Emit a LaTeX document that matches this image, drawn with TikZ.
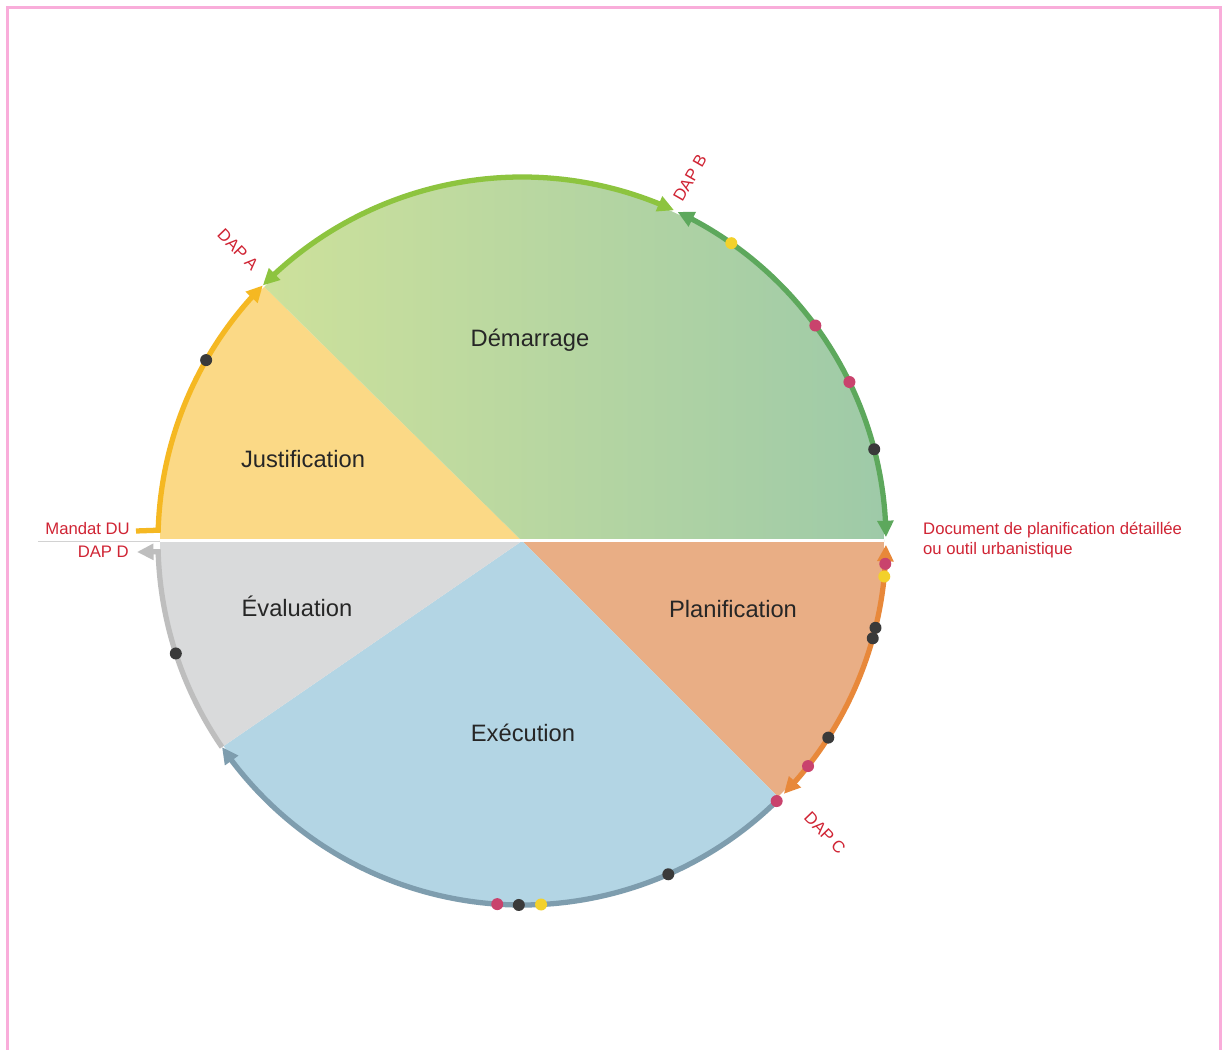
\documentclass[tikz,border=0pt]{standalone}
\usepackage{fontspec}
\setmainfont{Liberation Sans}
\usetikzlibrary{arrows.meta, bending, positioning}

\definecolor{justfill}{RGB}{251,217,134}
\definecolor{demleft}{RGB}{205,225,155}
\definecolor{demright}{RGB}{158,202,168}
\definecolor{planfill}{RGB}{233,174,133}
\definecolor{execfill}{RGB}{179,213,228}
\definecolor{evalfill}{RGB}{217,218,219}
\definecolor{justline}{RGB}{245,184,34}
\definecolor{demlineA}{RGB}{141,196,63}
\definecolor{demlineB}{RGB}{93,168,92}
\definecolor{planline}{RGB}{232,136,58}
\definecolor{execline}{RGB}{126,157,174}
\definecolor{evalline}{RGB}{190,190,190}
\definecolor{dotdark}{RGB}{58,58,58}
\definecolor{dotpink}{RGB}{201,67,109}
\definecolor{dotyellow}{RGB}{243,209,43}
\definecolor{dapred}{RGB}{208,36,52}

\begin{document}
\begin{tikzpicture}[x=0.02cm, y=0.02cm,
  phase/.style={font=\fontsize{13.5}{16}\selectfont, text=black!85},
  dap/.style={font=\fontsize{9.5}{11.5}\selectfont, text=dapred},
  rim/.style={line width=3pt},
  milestone/.style={circle, inner sep=0pt, minimum size=2.4mm},
  >={Triangle[length=3.3mm,width=3.1mm]}
]
\useasboundingbox[fill=white] (-522,-509) rectangle (704,541);
\draw[magenta!32, line width=0.06cm] (-514,-509) -- (-514,533) -- (698,533) -- (698,-509);

% sectors
\fill[justfill] (0,0) -- (180:362) arc[start angle=180, end angle=135.4, radius=362] -- cycle;
\shade[left color=demleft, right color=demright] (0,0) -- (135.4:362) arc[start angle=135.4, end angle=0, radius=362] -- cycle;
\fill[planfill] (0,0) -- (0:362) arc[start angle=0, end angle=-45, radius=362] -- cycle;
\fill[execfill] (0,0) -- (-45:362) arc[start angle=-45, end angle=-145.5, radius=362] -- cycle;
\fill[evalfill] (0,0) -- (-145.5:362) arc[start angle=-145.5, end angle=-180, radius=362] -- cycle;
\draw[white, line width=0.06cm] (180:362) -- (0:362);
\draw[gray!35, line width=0.4pt] (-484,0) -- (180:362);

\coordinate (pA) at (135.4:364);
\coordinate (pB) at (65:364);
\coordinate (pC) at (-45:364);
\coordinate (pE) at (-145.5:364);
\coordinate (mandat) at (-386,10);
\coordinate (dapDend) at (-385,-11);

% rim arcs
\draw[rim, justline, ->] (mandat) -- (178.3:364) arc[start angle=178.3, end angle=135.4, radius=364];
\draw[rim, demlineA, <->] (pA) arc[start angle=135.4, end angle=65.3, radius=364];
\draw[rim, demlineB, <->] (64.7:364) arc[start angle=64.7, end angle=0.6, radius=364];
\draw[rim, planline, <->] (-0.6:364) arc[start angle=-0.6, end angle=-44, radius=364];
\draw[rim, execline, ->] (pC) arc[start angle=-45, end angle=-145.5, radius=364];
\draw[rim, evalline, ->] (pE) arc[start angle=-145.5, end angle=-178.3, radius=364] -- (dapDend);

% milestones
\foreach \a/\c [count=\i] in {150.2/dotdark, 54.9/dotyellow, 36.3/dotpink, 25.9/dotpink,
    14.6/dotdark, -3.6/dotpink, -5.6/dotyellow, -13.8/dotdark, -15.5/dotdark,
    -32.7/dotdark, -38.2/dotpink, -45.6/dotpink, -66.3/dotdark, -87/dotyellow,
    -90.5/dotdark, -93.9/dotpink, 198/dotdark}
  \node[milestone, fill=\c] (m\i) at (\a:364) {};

% phases
\node[phase] (demarr) at (8,201)    {Démarrage};
\node[phase] (justif) at (-219,82)  {Justification};
\node[phase] (evalu)  at (-225,-65) {Évaluation};
\node[phase] (planif) at (211,-68)  {Planification};
\node[phase] (exec)   at (1,-192)   {Exécution};

% labels
\node[dap, rotate=-46] (dapA) at (-284,291) {DAP A};
\node[dap, rotate=60]  (dapB) at (168,363)  {DAP B};
\node[dap, rotate=-46] (dapC) at (303,-292) {DAP C};
\node[dap, anchor=east] (mandatlbl) at (-386,12)  {Mandat DU};
\node[dap, anchor=east] (dapD)      at (-387,-11) {DAP D};
\node[dap, anchor=west, align=left] (docplan) at (395,1)
  {Document de planification détaillée\\ou outil urbanistique};
\end{tikzpicture}
\end{document}
